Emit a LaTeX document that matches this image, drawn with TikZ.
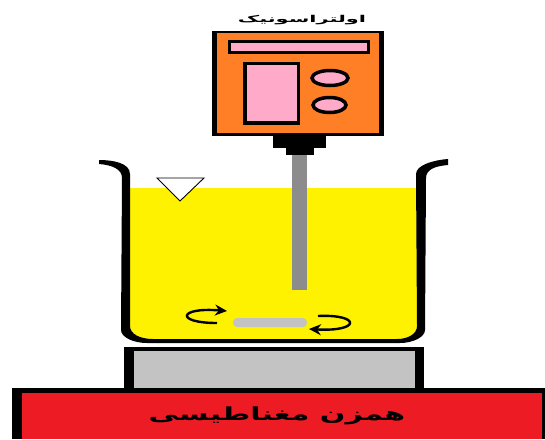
\documentclass[tikz,border=0pt]{standalone}
\usepackage{fontspec}
\usetikzlibrary{arrows.meta}
\newfontfamily\arabicfont[Script=Arabic]{DejaVu Sans}
\TeXXeTstate=1
\definecolor{bodyorange}{RGB}{255,127,39}
\definecolor{panelpink}{RGB}{255,170,201}
\definecolor{liquidyellow}{RGB}{255,242,0}
\definecolor{heaterred}{RGB}{237,28,36}
\definecolor{plategray}{RGB}{195,195,195}
\definecolor{rodgray}{RGB}{140,140,140}
\tikzset{
    panelpart/.style={draw=black,fill=panelpink,line width=3.5pt},
    stirarrow/.style={-{Stealth[length=12pt,width=11pt]},line width=2.4pt,black},
    persianlabel/.style={inner sep=0pt}
}
\begin{document}
\begin{tikzpicture}[x=1pt,y=-1pt]
    \useasboundingbox (0,0) rectangle (545,439);
    % --- Magnetic stirrer: red body and gray plate ---
    \fill[black] (12,388) rectangle (545,439);
    \fill[heaterred] (22,393) rectangle (542,439);
    \fill[black] (124,347) rectangle (424,388);
    \fill[plategray] (134,351) rectangle (415,388);
    % --- Liquid and beaker wall ---
    \fill[liquidyellow] (130,188) -- (417,188) -- (417,326)
        .. controls (417,334) and (408,339) .. (397,339) -- (153,339)
        .. controls (140,339) and (130,334) .. (130,326) -- cycle;
    \fill[black] (99,160) .. controls (113,160) and (130,163) .. (130,174)
        -- (130,326) .. controls (130,334) and (140,339) .. (153,339)
        -- (397,339) .. controls (408,339) and (417,334) .. (417,326)
        -- (416,174) .. controls (416,165) and (434,160) .. (448,159)
        -- (448,165) .. controls (436,166) and (426,169) .. (426,178)
        -- (425,330) .. controls (425,337) and (413,343) .. (400,343)
        -- (147,343) .. controls (133,343) and (121,337) .. (121,330)
        -- (122,178) .. controls (122,169) and (112,165) .. (99,164) -- cycle;
    % --- Level mark ---
    \draw[fill=white,line width=0.9pt] (157,178) -- (204,178) -- (180,201) -- cycle;
    % --- Probe ---
    \fill[rodgray] (292,155) rectangle (307,290);
    \fill[black] (273,135) rectangle (326,148);
    \fill[black] (286,148) rectangle (314,155);
    % --- Ultrasonic unit ---
    \fill[black] (212,31) rectangle (384,136);
    \fill[bodyorange] (217,33) rectangle (379,133);
    \draw[panelpart] (229.5,41.5) rectangle (368.5,52.5);
    \draw[panelpart] (245,63.5) rectangle (298.5,123);
    \draw[panelpart] (330,78) ellipse (18 and 7.5);
    \draw[panelpart] (329.5,105) ellipse (16.5 and 7.5);
    \node[persianlabel,font=\arabicfont\bfseries\fontsize{9.5}{10}\selectfont] (probelabel) at (302,20.5)
        {\scalebox{2.2}[1]{\beginR اولتراسونیک\endR}};
    % --- Stir bar and rotation arrows ---
    \fill[plategray] (233,318) [rounded corners=4pt] rectangle (307,327);
    \draw[stirarrow] (217,323) .. controls (175,323) and (178,307) .. (227,311);
    \draw[stirarrow] (318,316) .. controls (361,314) and (361,332) .. (309,329);
    \node[persianlabel,font=\arabicfont\bfseries\fontsize{18}{20}\selectfont] (stirrerlabel) at (277,416)
        {\scalebox{1.67}[1]{\beginR همزن مغناطیسی\endR}};
\end{tikzpicture}
\end{document}
